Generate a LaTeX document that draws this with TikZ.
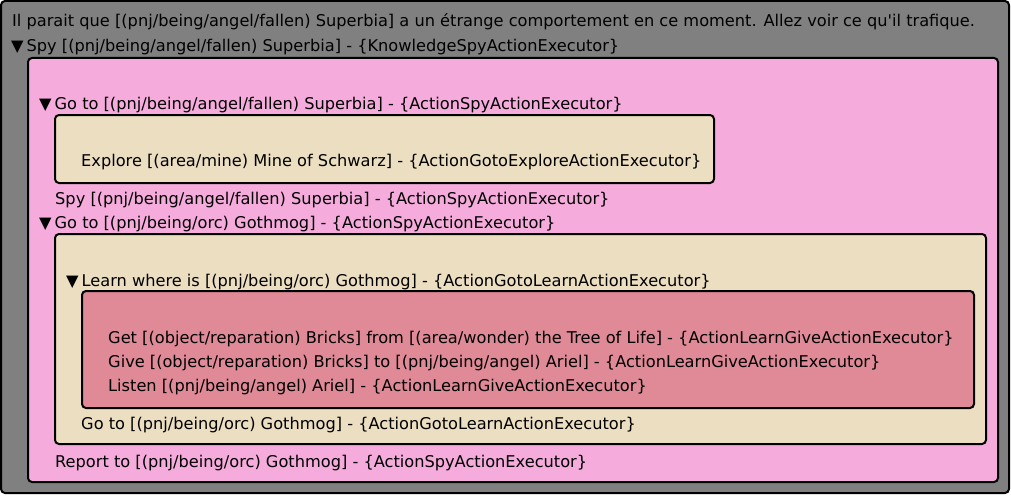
\documentclass[tikz,border=0pt]{standalone}
\usepackage{fontspec}
\setmainfont{DejaVu Sans}[Ligatures=TeXOff]
\definecolor{bggray}{RGB}{128,128,128}
\definecolor{pinkfill}{RGB}{245,172,220}
\definecolor{beigefill}{RGB}{236,222,192}
\definecolor{redfill}{RGB}{224,138,152}
\newcommand{\tri}{▼\hspace{3pt}}
\begin{document}
\begin{tikzpicture}[x=1pt,y=-1pt,
  box/.style={draw=black,line width=2pt,rounded corners=4pt},
  txt/.style={anchor=base west,inner sep=0pt,font=\fontsize{16.2}{19}\selectfont,text=black}]
\useasboundingbox (0,0) rectangle (1011,495);
\path[box,fill=bggray] (1,1) rectangle (1009,493);
\node[txt] (intro) at (12,27) {Il parait que [(pnj/being/angel/fallen) Superbia] a un étrange comportement en ce moment. Allez voir ce qu'il trafique.};
\node[txt] (spy) at (11,52) {\tri Spy [(pnj/being/angel/fallen) Superbia] - \{KnowledgeSpyActionExecutor\}};
\path[box,fill=pinkfill] (28,58) rectangle (998,482);
\node[txt] (goto1) at (39,109) {\tri Go to [(pnj/being/angel/fallen) Superbia] - \{ActionSpyActionExecutor\}};
\path[box,fill=beigefill] (55,115) rectangle (714,183);
\node[txt] (explore) at (81,166) {Explore [(area/mine) Mine of Schwarz] - \{ActionGotoExploreActionExecutor\}};
\node[txt] (spy2) at (55,204) {Spy [(pnj/being/angel/fallen) Superbia] - \{ActionSpyActionExecutor\}};
\node[txt] (goto2) at (39,228) {\tri Go to [(pnj/being/orc) Gothmog] - \{ActionSpyActionExecutor\}};
\path[box,fill=beigefill] (55,234) rectangle (986,444);
\node[txt] (learn) at (66,286) {\tri Learn where is [(pnj/being/orc) Gothmog] - \{ActionGotoLearnActionExecutor\}};
\path[box,fill=redfill] (82,291) rectangle (974,408);
\node[txt] (get) at (108,343) {Get [(object/reparation) Bricks] from [(area/wonder) the Tree of Life] - \{ActionLearnGiveActionExecutor\}};
\node[txt] (give) at (108,367) {Give [(object/reparation) Bricks] to [(pnj/being/angel) Ariel] - \{ActionLearnGiveActionExecutor\}};
\node[txt] (listen) at (108,391) {Listen [(pnj/being/angel) Ariel] - \{ActionLearnGiveActionExecutor\}};
\node[txt] (goto3) at (81,429) {Go to [(pnj/being/orc) Gothmog] - \{ActionGotoLearnActionExecutor\}};
\node[txt] (report) at (55,467) {Report to [(pnj/being/orc) Gothmog] - \{ActionSpyActionExecutor\}};
\end{tikzpicture}
\end{document}
